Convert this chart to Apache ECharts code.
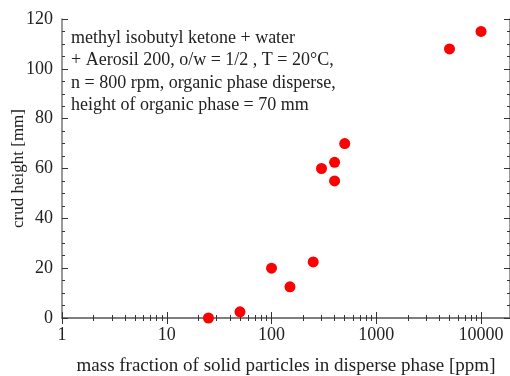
<!DOCTYPE html>
<html>
<head>
<meta charset="utf-8">
<title>crud height</title>
<script src="https://cdn.jsdelivr.net/npm/echarts@6/dist/echarts.min.js"></script>
<style>
  html, body { margin: 0; padding: 0; background: #fff; }
  #main { width: 510px; height: 376px; }
</style>
</head>
<body>
<div id="main"></div>
<script>
// mass fraction of solids [ppm] vs crud height [mm]
var massFraction = [25, 50, 100, 150, 250, 300, 400, 400, 500, 5000, 10000];
var crudHeight   = [0, 2.5, 20, 12.5, 22.5, 60, 62.5, 55, 70, 108, 115];

var noteLines = [
  'methyl isobutyl ketone + water',
  '+ Aerosil 200, o/w = 1/2 , T = 20°C,',
  'n = 800 rpm, organic phase disperse,',
  'height of organic phase = 70 mm'
];

var xMin = 1, xMax = 18900;
var yMin = 0, yMax = 120, yStep = 20;

var font = 'Liberation Serif';
var axisColor = '#777';
var textColor = '#222';

var points = massFraction.map(function (v, i) { return [v, crudHeight[i]]; });

var chart = echarts.init(document.getElementById('main'));

var xBase = {
  type: 'log', logBase: 10, min: xMin, max: xMax,
  axisLine: { lineStyle: { color: axisColor, width: 1.5 } },
  axisTick: { inside: true, length: 6, lineStyle: { color: '#333' } },
  minorTick: { show: true, splitNumber: 9, length: 3, lineStyle: { color: '#333' } },
  splitLine: { show: false }
};
var yBase = {
  type: 'value', min: yMin, max: yMax, interval: yStep,
  axisLine: { show: true, lineStyle: { color: axisColor, width: 1.5 } },
  axisTick: { inside: true, length: 6, lineStyle: { color: '#333' } },
  minorTick: { show: true, splitNumber: 4, length: 3, lineStyle: { color: '#333' } },
  splitLine: { show: false }
};

var option = {
  animation: false,
  grid: { left: 62, right: 0, top: 19, bottom: 58, containLabel: false, outerBoundsMode: 'none' },
  xAxis: [
    Object.assign({}, xBase, {
      position: 'bottom',
      name: 'mass fraction of solid particles in disperse phase [ppm]',
      nameLocation: 'middle', nameGap: 39, nameMoveOverlap: false,
      nameTextStyle: { fontFamily: font, fontSize: 19, color: textColor },
      axisLabel: {
        fontFamily: font, fontSize: 18, color: textColor, margin: 8, showMaxLabel: false,
        formatter: function (v) { return String(Math.round(v)); }
      }
    }),
    Object.assign({}, xBase, {
      position: 'top',
      axisLabel: { show: false }
    })
  ],
  yAxis: [
    Object.assign({}, yBase, {
      position: 'left',
      name: 'crud height [mm]',
      nameLocation: 'middle', nameGap: 35, nameMoveOverlap: false,
      nameTextStyle: { fontFamily: font, fontSize: 17, color: textColor },
      axisLabel: { fontFamily: font, fontSize: 18, color: textColor, margin: 9 }
    }),
    Object.assign({}, yBase, {
      position: 'right',
      axisLabel: { show: false }
    })
  ],
  graphic: [{
    type: 'text',
    left: 71, top: 27,
    style: {
      text: noteLines.join('\n'),
      fontFamily: font, fontSize: 18, lineHeight: 22.4,
      fill: textColor
    }
  }],
  series: [{
    type: 'scatter',
    xAxisIndex: 0, yAxisIndex: 0,
    symbol: 'circle', symbolSize: 11,
    itemStyle: { color: '#ff0000', opacity: 1 },
    data: points
  }]
};

chart.setOption(option);
</script>
</body>
</html>
